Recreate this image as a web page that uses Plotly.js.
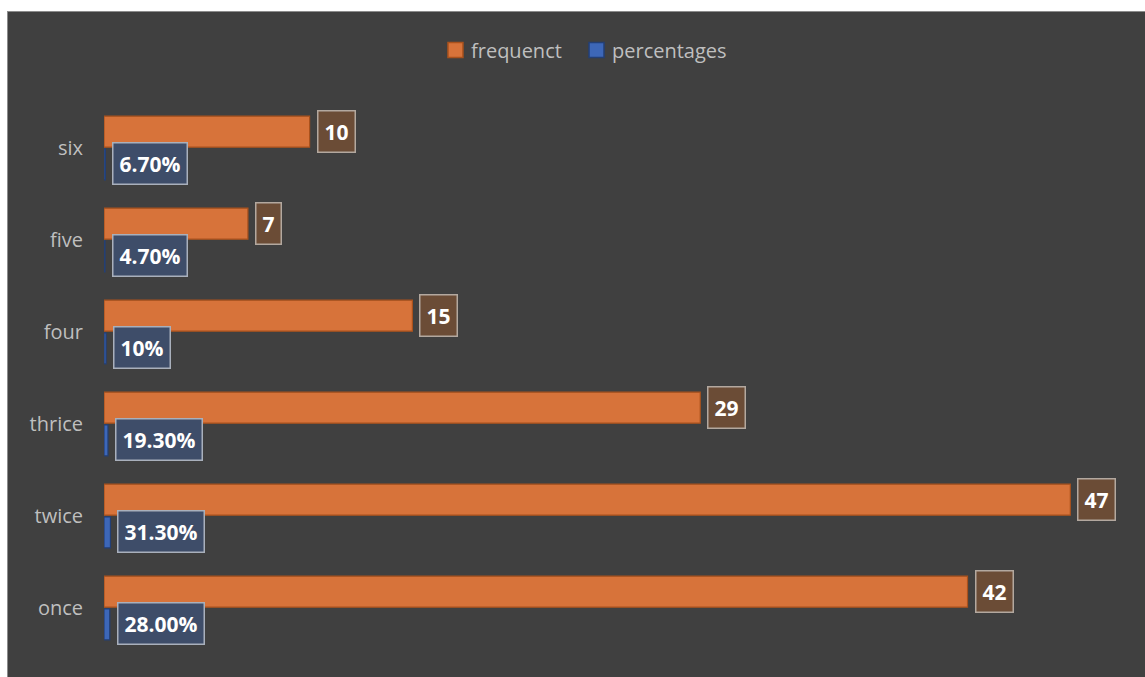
<!DOCTYPE html>
<html>
<head>
<meta charset="utf-8">
<script src="https://cdn.plot.ly/plotly-3.0.1.min.js"></script>
<style>
  html, body { margin: 0; padding: 0; background: #ffffff; width: 1145px; height: 677px; overflow: hidden; }
  #frame { position: absolute; left: 7px; top: 11px; border-left: 1px solid #8c8c8c; border-top: 1px solid #8c8c8c; }
  #chart { width: 1137px; height: 665px; }
</style>
</head>
<body>
<div id="frame"><div id="chart"></div></div>
<script>
// Categories listed top to bottom
const categories = ['six', 'five', 'four', 'thrice', 'twice', 'once'];
const frequency = [10, 7, 15, 29, 47, 42];
const percentages = [0.067, 0.047, 0.10, 0.193, 0.313, 0.28];
const percentLabels = ['6.70%', '4.70%', '10%', '19.30%', '31.30%', '28.00%'];
const seriesNames = ['frequenct', 'percentages'];

const fills = ['#d7733a', '#3d67b8'];
const outlines = ['#a9511c', '#233f75'];

const traces = [
  {
    type: 'bar', orientation: 'h', name: seriesNames[0],
    x: frequency, y: categories,
    marker: { color: fills[0], line: { color: outlines[0], width: 1.2 } },
    hoverinfo: 'x+y', showlegend: false
  },
  {
    type: 'bar', orientation: 'h', name: seriesNames[1],
    x: percentages, y: categories,
    marker: { color: fills[1], line: { color: outlines[1], width: 1.2 } },
    hoverinfo: 'x+y', showlegend: false
  }
];

const labelFont = { family: 'Open Sans', size: 21, color: '#ffffff', weight: 700 };
const annotations = [];
categories.forEach((c, i) => {
  annotations.push({
    x: frequency[i], y: c, xref: 'x', yref: 'y',
    text: String(frequency[i]), showarrow: false,
    xanchor: 'left', yanchor: 'middle', xshift: 7, yshift: 16.5,
    font: labelFont, bgcolor: '#6b4c36', bordercolor: '#b3a89f',
    borderwidth: 1.5, borderpad: 6
  });
  annotations.push({
    x: percentages[i], y: c, xref: 'x', yref: 'y',
    text: percentLabels[i], showarrow: false,
    xanchor: 'left', yanchor: 'middle', xshift: 7, yshift: -15,
    font: labelFont, bgcolor: '#3e4d69', bordercolor: '#a9b0bc',
    borderwidth: 1.5, borderpad: 6
  });
});

// Custom legend (square swatch hugging its text), in plot-area paper coordinates
const legendFont = { family: 'Open Sans', size: 20, color: '#bfbfbf' };
const legendSwatchX = [0.3346, 0.4718];
const legendTextX = [0.3551, 0.4922];
const legendY = 1.0942;
const shapes = [];
seriesNames.forEach((name, k) => {
  shapes.push({
    type: 'rect', xref: 'paper', yref: 'paper',
    x0: legendSwatchX[k], x1: legendSwatchX[k] + 0.0146,
    y0: legendY - 0.0136, y1: legendY + 0.0136,
    fillcolor: fills[k], line: { color: outlines[k], width: 1.5 }
  });
  annotations.push({
    xref: 'paper', yref: 'paper', x: legendTextX[k], y: legendY,
    xanchor: 'left', yanchor: 'middle', text: name, showarrow: false,
    font: legendFont
  });
});

const layout = {
  width: 1137, height: 665,
  paper_bgcolor: '#404040', plot_bgcolor: '#404040',
  margin: { l: 96, r: 13, t: 90, b: 23, pad: 0 },
  barmode: 'group', bargap: 0.29, bargroupgap: 0.05,
  font: { family: 'Open Sans', size: 20, color: '#bfbfbf' },
  xaxis: { range: [0, 50], visible: false, showgrid: false, zeroline: false, fixedrange: true },
  yaxis: {
    type: 'category', categoryorder: 'array', categoryarray: categories,
    autorange: 'reversed', showgrid: false, zeroline: false, showline: false,
    ticks: '', ticklabelstandoff: 20,
    tickfont: { family: 'Open Sans', size: 20, color: '#bfbfbf' }
  },
  showlegend: false,
  shapes: shapes,
  annotations: annotations
};

Plotly.newPlot('chart', traces, layout, { displayModeBar: false, staticPlot: true });
</script>
</body>
</html>
